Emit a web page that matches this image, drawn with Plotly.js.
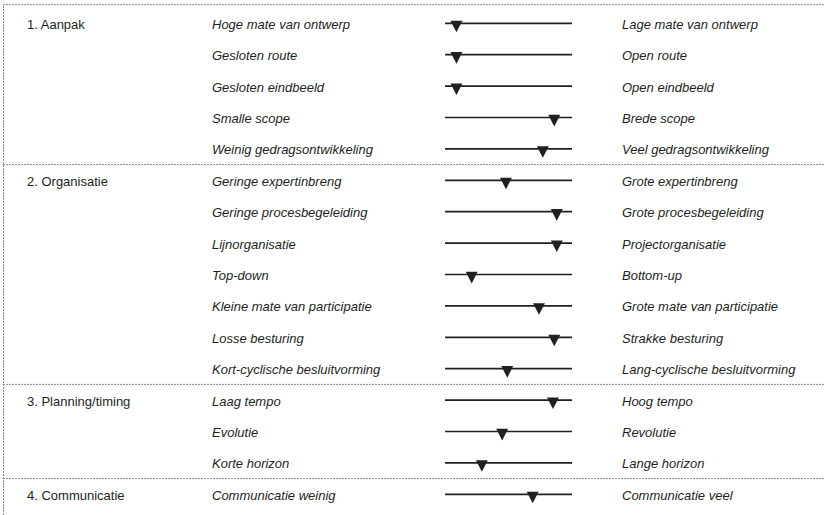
<!DOCTYPE html>
<html>
<head>
<meta charset="utf-8">
<script src="https://cdn.plot.ly/plotly-3.0.1.min.js"></script>
<style>
  html, body { margin: 0; padding: 0; background: #ffffff; }
  #chart { width: 824px; height: 515px; }
</style>
</head>
<body>
<div id="chart"></div>
<script>
// ---- data ----
const groupNames = ['1. Aanpak', '2. Organisatie', '3. Planning/timing', '4. Communicatie'];
const groupSizes = [5, 7, 3, 1];

const leftLabels = [
  'Hoge mate van ontwerp',
  'Gesloten route',
  'Gesloten eindbeeld',
  'Smalle scope',
  'Weinig gedragsontwikkeling',
  'Geringe expertinbreng',
  'Geringe procesbegeleiding',
  'Lijnorganisatie',
  'Top-down',
  'Kleine mate van participatie',
  'Losse besturing',
  'Kort-cyclische besluitvorming',
  'Laag tempo',
  'Evolutie',
  'Korte horizon',
  'Communicatie weinig'
];

const rightLabels = [
  'Lage mate van ontwerp',
  'Open route',
  'Open eindbeeld',
  'Brede scope',
  'Veel gedragsontwikkeling',
  'Grote expertinbreng',
  'Grote procesbegeleiding',
  'Projectorganisatie',
  'Bottom-up',
  'Grote mate van participatie',
  'Strakke besturing',
  'Lang-cyclische besluitvorming',
  'Hoog tempo',
  'Revolutie',
  'Lange horizon',
  'Communicatie veel'
];

// position of the marker on the scale (0 = left pole, 100 = right pole)
const values = [9, 9, 9, 86, 77, 48, 88, 88, 21, 74, 86, 49, 85, 45, 29, 69];

const scaleMin = 0;
const scaleMax = 100;

// ---- build ----
const rows = values.map((v, i) => i);
const textColor = '#231f20';
const fontFamily = 'Liberation Sans, Arial, sans-serif';
const fontSize = 13;

const lineX = [], lineY = [];
rows.forEach(r => {
  lineX.push(scaleMin, scaleMax, null);
  lineY.push(r, r, null);
});

const traces = [
  {
    type: 'scatter', mode: 'lines', x: lineX, y: lineY,
    line: { color: textColor, width: 1.7 }, hoverinfo: 'skip'
  }
];

// downward pointing triangle marker for each row (size in axis units)
const triHalfW = 4.7;   // half width along the scale
const triTop = 0.085;   // top edge above the line (row units)
const triTip = 0.285;   // tip below the line (row units)
values.forEach((v, r) => {
  traces.push({
    type: 'scatter', mode: 'lines', fill: 'toself',
    x: [v - triHalfW, v + triHalfW, v, v - triHalfW],
    y: [r - triTop, r - triTop, r + triTip, r - triTop],
    fillcolor: textColor, line: { color: textColor, width: 0 },
    hoverinfo: 'skip'
  });
});

const annotations = [];
rows.forEach(r => {
  annotations.push({
    xref: 'paper', yref: 'y', x: 209.7 / 824, y: r, xanchor: 'left', yanchor: 'middle',
    text: leftLabels[r], showarrow: false, yshift: -1,
    font: { family: fontFamily, size: fontSize, color: textColor, style: 'italic' }
  });
  annotations.push({
    xref: 'paper', yref: 'y', x: 619.7 / 824, y: r, xanchor: 'left', yanchor: 'middle',
    text: rightLabels[r], showarrow: false, yshift: -1,
    font: { family: fontFamily, size: fontSize, color: textColor, style: 'italic' }
  });
});

const shapes = [];
const sepStyle = { color: '#8a8a8a', width: 1, dash: '2px,1px' };
let start = 0;
groupNames.forEach((g, gi) => {
  annotations.push({
    xref: 'paper', yref: 'y', x: 24.7 / 824, y: start, xanchor: 'left', yanchor: 'middle',
    text: g, showarrow: false, yshift: -1,
    font: { family: fontFamily, size: fontSize, color: textColor }
  });
  start += groupSizes[gi];
  if (gi < groupNames.length - 1) {
    shapes.push({
      type: 'line', xref: 'paper', yref: 'y',
      x0: 3 / 824, x1: 1, y0: start - 0.5, y1: start - 0.5, line: sepStyle
    });
  }
});

// outer frame: top and left dotted border
shapes.push({
  type: 'line', xref: 'paper', yref: 'paper',
  x0: 3 / 824, x1: 1, y0: 1 - 4.7 / 515, y1: 1 - 4.7 / 515, line: sepStyle
});
shapes.push({
  type: 'line', xref: 'paper', yref: 'paper',
  x0: 3.5 / 824, x1: 3.5 / 824, y0: 0, y1: 1 - 4.7 / 515, line: sepStyle
});

const layout = {
  width: 824, height: 515,
  margin: { l: 0, r: 0, t: 0, b: 0, pad: 0 },
  paper_bgcolor: '#ffffff', plot_bgcolor: '#ffffff',
  showlegend: false,
  xaxis: { range: [-350.4, 298.4], visible: false, fixedrange: true },
  yaxis: { range: [15.659, -0.742], visible: false, fixedrange: true },
  annotations: annotations,
  shapes: shapes
};

Plotly.newPlot('chart', traces, layout, { staticPlot: true, displayModeBar: false });
</script>
</body>
</html>
